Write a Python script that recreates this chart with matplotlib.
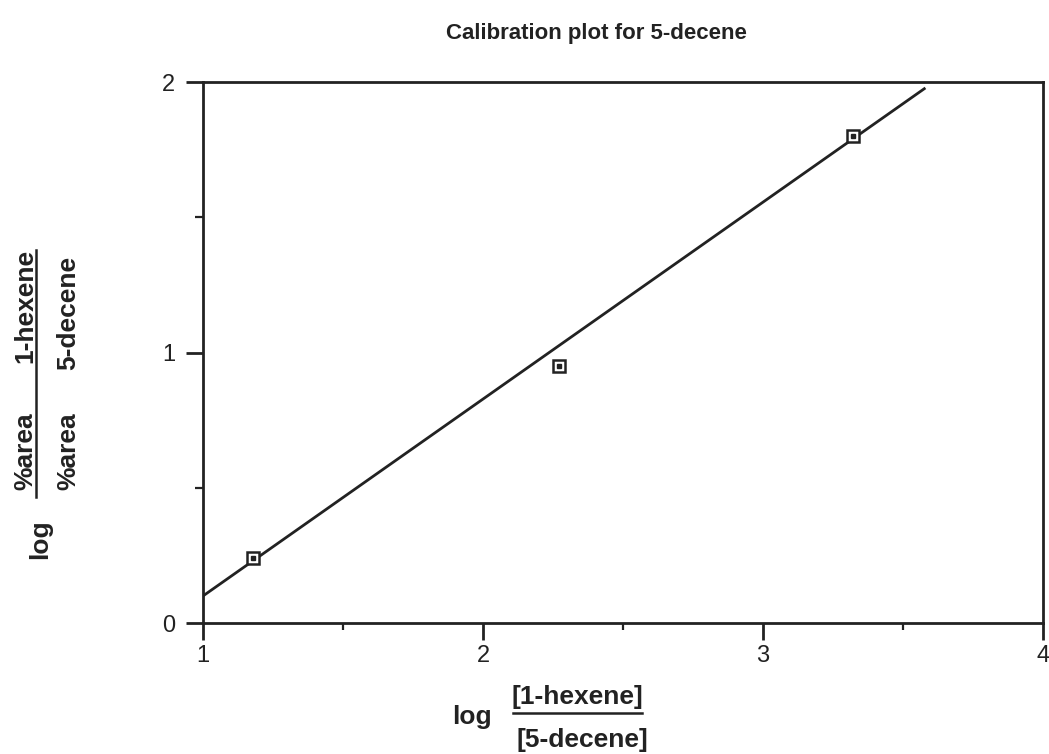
import matplotlib.pyplot as plt
from matplotlib.lines import Line2D
import numpy as np

plt.rcParams['font.family'] = ['Liberation Sans', 'DejaVu Sans']

# Calibration data: log of concentration ratio vs log of peak area ratio
log_conc_ratio = [1.18, 2.27, 3.32]
log_area_ratio = [0.24, 0.95, 1.80]

# Calibration line y = slope * x + intercept, drawn from x = 1 to 3.58
fit_slope = 0.728
fit_intercept = -0.628
fit_x = [1.0, 3.58]

ink = '#222222'

fig = plt.figure(figsize=(10.49, 7.54), dpi=100)
ax = fig.add_axes([0.1935, 0.1737, 0.8008, 0.7175])

line_x = np.array(fit_x)
ax.plot(line_x, fit_slope * line_x + fit_intercept, color=ink, lw=2.0,
        solid_capstyle='butt')
ax.plot(log_conc_ratio, log_area_ratio, linestyle='none', marker='s',
        markersize=8.5, markerfacecolor='white', markeredgecolor=ink,
        markeredgewidth=1.8)
ax.plot(log_conc_ratio, log_area_ratio, linestyle='none', marker='s',
        markersize=2.2, color=ink)

ax.set_xlim(1, 4)
ax.set_ylim(0, 2)
ax.set_xticks([1, 2, 3, 4])
ax.set_xticks([1.5, 2.5, 3.5], minor=True)
ax.set_yticks([0, 1, 2])
ax.set_yticks([0.5, 1.5], minor=True)

for side in ax.spines.values():
    side.set_linewidth(2.0)
    side.set_color(ink)

ax.tick_params(axis='x', which='major', direction='out', length=12, width=2.0,
               labelsize=17, pad=4, colors=ink)
ax.tick_params(axis='x', which='minor', direction='out', length=5, width=1.6,
               colors=ink)
ax.tick_params(axis='y', which='major', direction='out', length=12, width=2.0,
               labelsize=17, pad=8, colors=ink)
ax.tick_params(axis='y', which='minor', direction='out', length=6, width=1.6,
               colors=ink)

fig.text(596 / 1049, 1 - 33 / 754, 'Calibration plot for 5-decene',
         ha='center', va='center', fontsize=16, fontweight='bold', color=ink)

label_style = dict(fontsize=19, fontweight='bold', color=ink, va='center')

# x-axis label written as a fraction
fig.text(472 / 1049, 1 - 717 / 754, 'log', ha='center', **label_style)
fig.text(577 / 1049, 1 - 697 / 754, '[1-hexene]', ha='center', **label_style)
fig.text(582 / 1049, 1 - 740 / 754, '[5-decene]', ha='center', **label_style)
fig.add_artist(Line2D([513 / 1049, 642 / 1049], [1 - 713 / 754, 1 - 713 / 754],
                      transform=fig.transFigure, color=ink, lw=1.8))

# y-axis label written as a fraction, rotated
fig.text(40 / 1049, 1 - 539 / 754, 'log', rotation=90, ha='center', **label_style)
fig.text(37 / 1049, 1 - 451 / 754, '%area', rotation=90, ha='right', **label_style)
fig.text(37 / 1049, 1 - 306 / 754, '1-hexene', rotation=90, ha='right', **label_style)
fig.text(68 / 1049, 1 - 451 / 754, '%area', rotation=90, ha='center', **label_style)
fig.text(68 / 1049, 1 - 313 / 754, '5-decene', rotation=90, ha='center', **label_style)
fig.add_artist(Line2D([36 / 1049, 36 / 1049], [1 - 250 / 754, 1 - 497 / 754],
                      transform=fig.transFigure, color=ink, lw=1.8))

fig.savefig('out.png', dpi=100)
